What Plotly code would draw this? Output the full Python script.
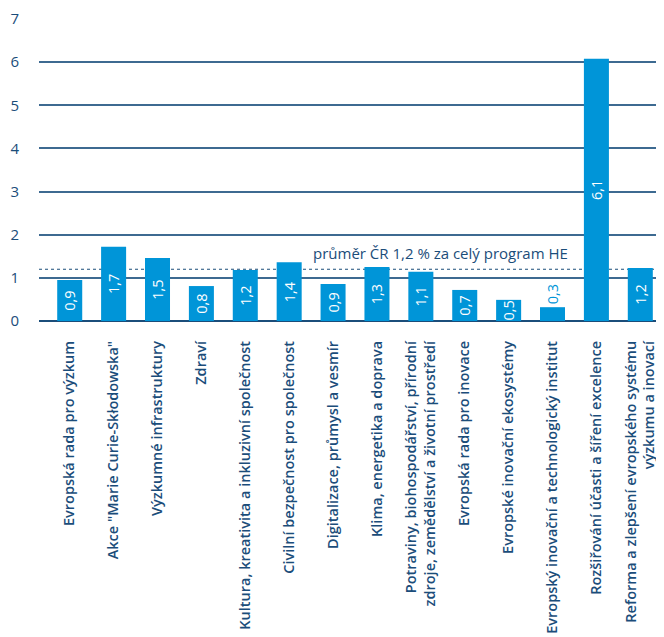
import plotly.graph_objects as go

categories = [
    "Evropská rada pro výzkum",
    "Akce \"Marie Curie-Skłodowska\"",
    "Výzkumné infrastruktury",
    "Zdraví",
    "Kultura, kreativita a inkluzivní společnost",
    "Civilní bezpečnost pro společnost",
    "Digitalizace, průmysl a vesmír",
    "Klima, energetika a doprava",
    "Potraviny, biohospodářství, přírodní<br>zdroje, zemědělství a životní prostředí",
    "Evropská rada pro inovace",
    "Evropské inovační ekosystémy",
    "Evropský inovační a technologický institut",
    "Rozšiřování účasti a šíření excelence",
    "Reforma a zlepšení evropského systému<br>výzkumu a inovací",
]
values = [0.95, 1.72, 1.46, 0.81, 1.18, 1.36, 0.86, 1.25, 1.14, 0.72, 0.49, 0.32, 6.08, 1.23]
labels = ["0,9", "1,7", "1,5", "0,8", "1,2", "1,4", "0,9", "1,3", "1,1", "0,7", "0,5", "0,3", "6,1", "1,2"]
average = 1.2
average_text = "průměr ČR 1,2 % za celý program HE"
y_ticks = [0, 1, 2, 3, 4, 5, 6, 7]

BAR = "#0095d8"
DARK = "#1b4d7a"
FONT = "Open Sans"
W = 600

x = list(range(len(categories)))
positions = ["outside" if v < 0.4 else "inside" for v in values]

fig = go.Figure()
fig.add_trace(go.Bar(
    x=x, y=values, text=labels, textposition=positions,
    textangle=-90, insidetextanchor="middle", constraintext="none",
    insidetextfont=dict(color="white", size=14.5, family=FONT, weight=500),
    outsidetextfont=dict(color=BAR, size=14.5, family=FONT, weight=500),
    marker=dict(color=BAR, line=dict(width=0)),
    width=0.57, cliponaxis=False, hoverinfo="skip",
))

fig.add_shape(type="line", xref="paper", x0=0, x1=1, yref="y", y0=average, y1=average,
              line=dict(color=DARK, width=1.2, dash="dot"), layer="below")
fig.add_annotation(x=8.45, y=average, xref="x", yref="y", text=average_text,
                   showarrow=False, yanchor="bottom", yshift=4,
                   font=dict(color=DARK, size=15, family=FONT, weight=500))

fig.update_layout(
    width=664, height=637,
    margin=dict(l=31, r=8, t=11, b=324, autoexpand=False),
    paper_bgcolor="white", plot_bgcolor="white",
    showlegend=False, bargap=0.43,
    font=dict(family=FONT, color=DARK, size=14.5),
)
fig.update_xaxes(
    tickmode="array", tickvals=x, ticktext=categories, tickangle=-90,
    range=[-0.7, 13.54], showgrid=False, ticks="", showline=False, automargin=False,
    tickfont=dict(color=DARK, size=14.5, family=FONT, weight=W), ticklabelstandoff=16,
)
fig.update_yaxes(
    range=[0, 7], tickvals=y_ticks, ticktext=[str(t) for t in y_ticks],
    showgrid=True, gridcolor="#3d6a91", gridwidth=1.5, automargin=False,
    zeroline=True, zerolinecolor="#1b4d7a", zerolinewidth=2,
    showline=False, ticks="", ticklabelstandoff=19,
    tickfont=dict(color=DARK, size=15, family=FONT, weight=500),
)

fig.write_html("out.html")
